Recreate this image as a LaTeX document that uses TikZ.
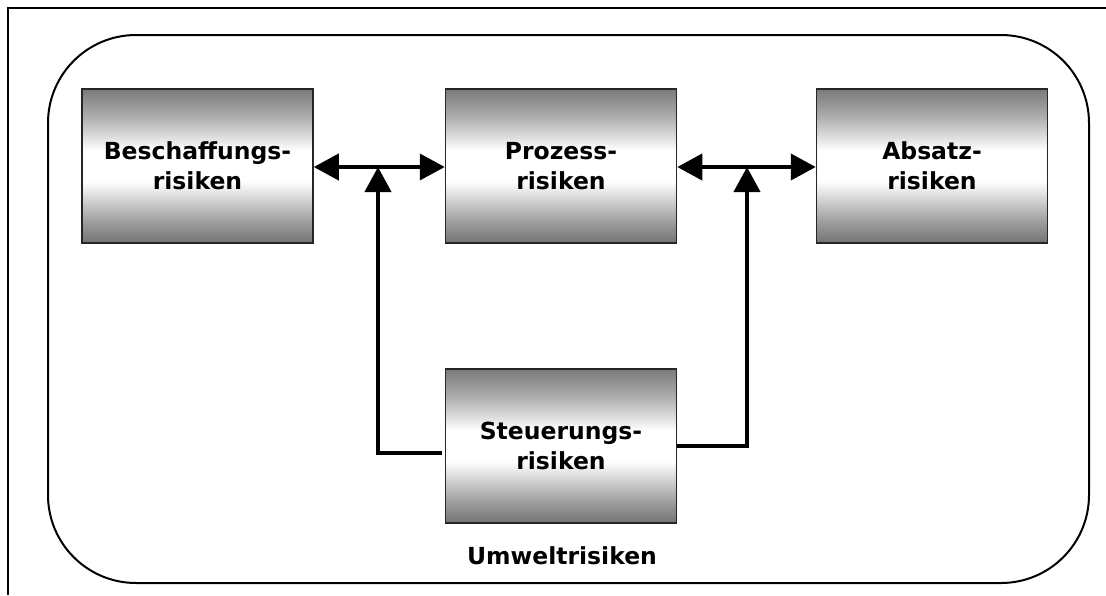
\documentclass[tikz,border=0pt]{standalone}
\usepackage{fontspec}
\setmainfont{DejaVu Sans}
\usetikzlibrary{arrows.meta}
\pgfdeclareverticalshading{boxshade}{100bp}{color(0bp)=(black!55); color(25bp)=(black!55); color(32bp)=(black!38); color(45bp)=(white); color(55bp)=(white); color(66bp)=(black!32); color(75bp)=(black!52); color(100bp)=(black!52)}
\tikzset{
  riskbox/.style={draw=black!85, line width=1.5pt, shading=boxshade, minimum width=231pt, minimum height=154pt, inner sep=0pt, align=center, font=\fontsize{23.5}{30}\selectfont\bfseries, text=black},
  link/.style={line width=4pt, draw=black},
  tip/.style={-{Triangle[length=25pt,width=26pt]}},
  dtip/.style={{Triangle[length=25pt,width=26pt]}-{Triangle[length=25pt,width=26pt]}}
}
\begin{document}
\begin{tikzpicture}[x=1pt,y=-1pt]
\useasboundingbox (0,0) rectangle (1106,595);
\draw[line width=2pt] (1106,8) -- (8,8) -- (8,595);
\draw[line width=2pt, rounded corners=88pt] (48,35) rectangle (1089,583);
\node[riskbox] (besch) at (197.5,166) {Beschaffungs-\\risiken};
\node[riskbox] (proz) at (561,166) {Prozess-\\risiken};
\node[riskbox] (absatz) at (932,166) {Absatz-\\risiken};
\node[riskbox] (steu) at (561,446) {Steuerungs-\\risiken};
\node[font=\fontsize{23.5}{28}\selectfont\bfseries] (umwelt) at (562,556) {Umweltrisiken};
\coordinate (j1) at (378,167);
\coordinate (j2) at (747,167);
\coordinate (a1) at (442,453);
\draw[link,dtip] (besch.east |- j1) -- (proz.west |- j1);
\draw[link,dtip] (proz.east |- j2) -- (absatz.west |- j2);
\draw[link,tip] (a1) -| (j1);
\draw[link,tip] (steu.east) -| (j2);
\end{tikzpicture}
\end{document}
